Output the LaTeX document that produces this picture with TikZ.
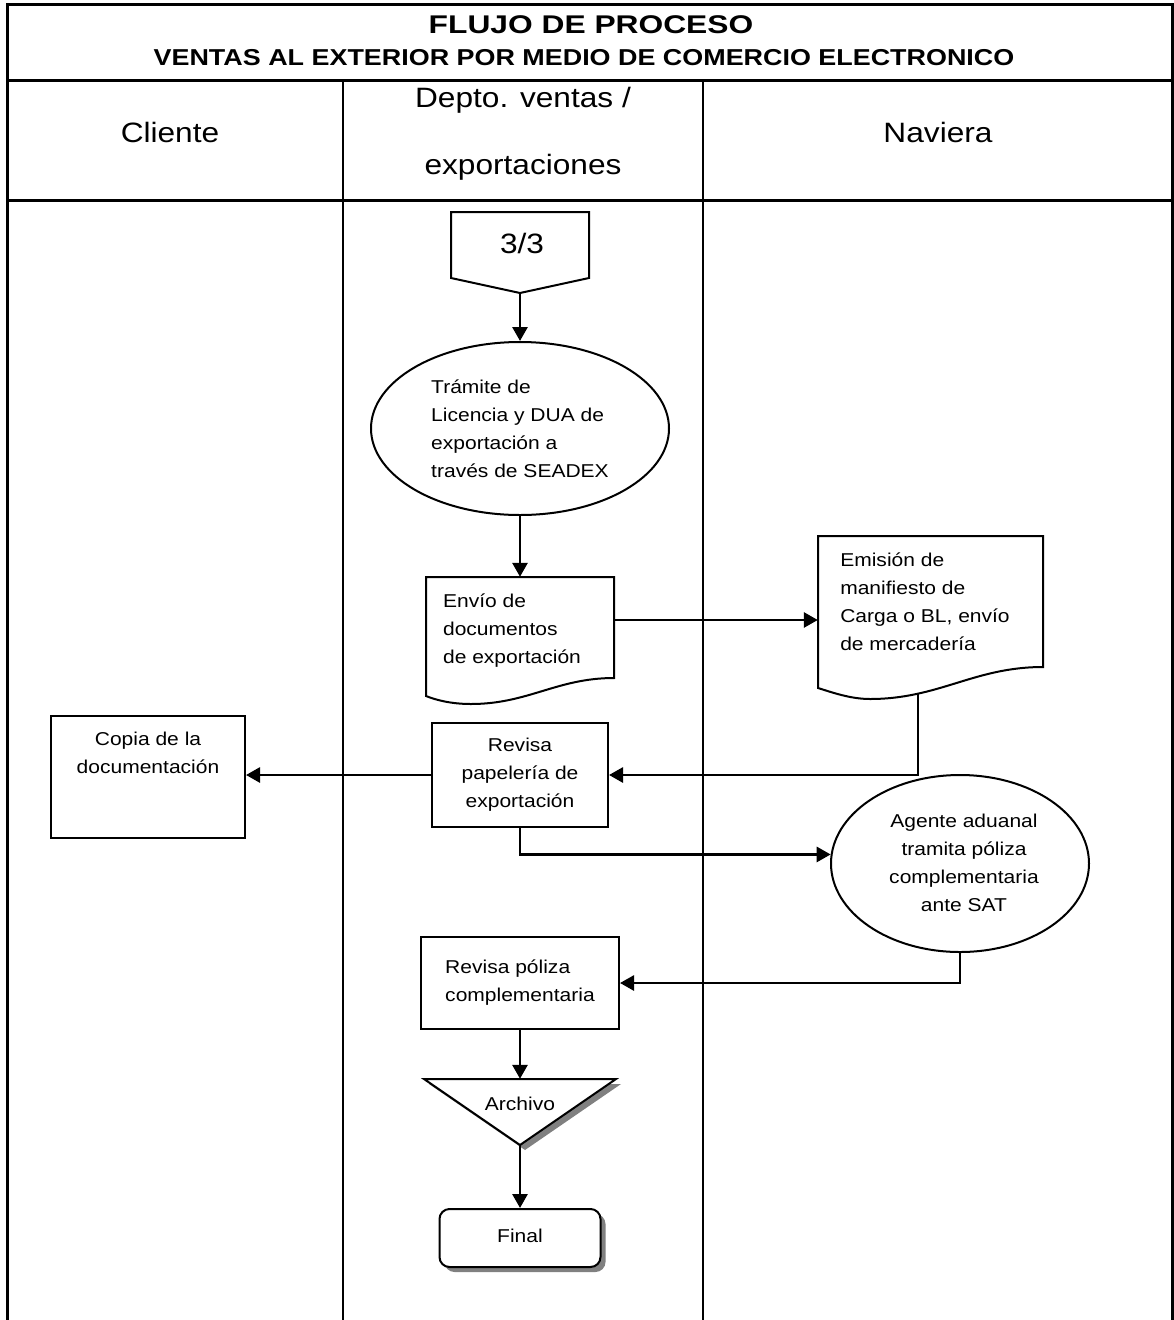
\documentclass[tikz,border=0pt]{standalone}
\usepackage{fontspec}
\setmainfont{Liberation Sans}[FakeStretch=1.13]
\newfontfamily\titleA{Liberation Sans}[FakeStretch=1.24]
\newfontfamily\titleB{Liberation Sans}[FakeStretch=1.17]
\usetikzlibrary{arrows.meta,shapes.geometric,shadows,calc}
\begin{document}
\begin{tikzpicture}[x=1pt,y=-1pt,
  frame/.style={line width=3pt},
  lane/.style={line width=2.5pt},
  shp/.style={draw, line width=2pt, fill=white},
  ghost/.style={draw=none, inner sep=0pt},
  arr/.style={line width=2.8pt, -{Triangle[length=14pt,width=15pt]}},
  body/.style={font=\fontsize{18.6}{28}\selectfont, inner sep=0pt},
  hdr/.style={font=\fontsize{28}{34}\selectfont, inner sep=0pt, anchor=base},
  shade/.style={drop shadow={shadow xshift=5pt, shadow yshift=-5pt, fill=black!50, opacity=1}}]
\useasboundingbox (0,0) rectangle (1173,1320);
% table frame
\draw[frame] (7,1320) -- (7,4) -- (1172,4) -- (1172,1320);
\draw[frame] (7,80) -- (1172,80);
\draw[frame] (7,200) -- (1172,200);
\draw[lane] (343,80) -- (343,1320);
\draw[lane] (703,80) -- (703,1320);
% titles
\node[anchor=base, inner sep=0pt, font=\titleA\bfseries\fontsize{25.6}{30}\selectfont] (t1) at (591,33) {FLUJO DE PROCESO};
\node[anchor=base, inner sep=0pt, font=\titleB\bfseries\fontsize{23}{28}\selectfont] (t2) at (584,65) {VENTAS AL EXTERIOR POR MEDIO DE COMERCIO ELECTRONICO};
\node[hdr] (h1) at (170,142) {Cliente};
\node[hdr] (h2a) at (523,107) {Depto. ventas /};
\node[hdr] (h2b) at (523,174) {exportaciones};
\node[hdr] (h3) at (938,142) {Naviera};
% off-page connector
\draw[shp] (451,212) -- (589,212) -- (589,278) -- (520,293) -- (451,278) -- cycle;
\node[ghost, minimum width=138pt, minimum height=81pt] (off) at (520,252.5) {};
\node[anchor=base, inner sep=0pt, font=\fontsize{28}{34}\selectfont] (offt) at (522,253) {3/3};
% ellipse 1
\node[shp, ellipse, inner sep=0pt, minimum width=298pt, minimum height=173pt, body, align=left] (ell1) at (520,428.5)
  {Trámite de\\Licencia y DUA de\\exportación a\\través de SEADEX};
% document 1
\draw[shp] (426,577) -- (614,577) -- (614,678) .. controls (557,678) and (528,704) .. (471,704)
  .. controls (451,704) and (436,700) .. (426,696) -- cycle;
\node[ghost, minimum width=188pt, minimum height=86pt] (doc1) at (520,620) {};
\node[body, align=left] (doc1t) at (512,631) {Envío de\\documentos\\de exportación};
% document 2
\draw[shp] (818,536) -- (1043,536) -- (1043,667) .. controls (974,667) and (939,699) .. (870,699)
  .. controls (850,699) and (831,692) .. (818,688) -- cycle;
\node[ghost, minimum width=225pt, minimum height=168pt] (doc2) at (930.5,620) {};
\node[body, align=left] (doc2t) at (925,602) {Emisión de\\manifiesto de\\Carga o BL, envío\\de mercadería};
\coordinate (d2out) at (918,693);
% revisa papeleria
\node[shp, minimum width=176pt, minimum height=104pt, body, align=center] (revisa) at (520,775)
  {Revisa\\papelería de\\exportación};
% copia
\node[shp, minimum width=194pt, minimum height=122pt] (copia) at (148,777) {};
\node[body, align=center] (copiat) at (148,753) {Copia de la\\documentación};
% ellipse 2
\node[shp, ellipse, inner sep=0pt, minimum width=258pt, minimum height=177pt] (ell2) at (960,863.5) {};
\node[body, align=center] (ell2t) at (964,863) {Agente aduanal\\tramita póliza\\complementaria\\ante SAT};
% revisa poliza
\node[shp, minimum width=198pt, minimum height=92pt, body, align=left] (poliza) at (520,983)
  {Revisa póliza\\complementaria};
% archivo
\draw[shp, shade] (424,1079) -- (616,1079) -- (520,1145) -- cycle;
\node[ghost, minimum width=192pt, minimum height=66pt] (arch) at (520,1112) {};
\node[anchor=base, inner sep=0pt, font=\fontsize{18.6}{28}\selectfont] (archt) at (520,1110) {Archivo};
% final
\node[shp, shade, rounded corners=10pt, minimum width=161pt, minimum height=58pt] (final) at (520,1238) {};
\node[anchor=base, inner sep=0pt, font=\fontsize{18.6}{28}\selectfont] (finalt) at (520,1242) {Final};
% connectors
\draw[arr] (off.south) -- (ell1.north);
\draw[arr] (ell1.south) -- (doc1.north);
\draw[arr] (doc1.east) -- (doc2.west);
\draw[arr] (d2out) |- (revisa.east);
\draw[arr] (revisa.west) -- (copia.east |- revisa.west);
\draw[arr] (revisa.south) |- (ell2.176);
\draw[arr] (ell2.south) |- (poliza.east);
\draw[arr] (poliza.south) -- (arch.north);
\draw[arr] (arch.south) -- (final.north);
\end{tikzpicture}
\end{document}
